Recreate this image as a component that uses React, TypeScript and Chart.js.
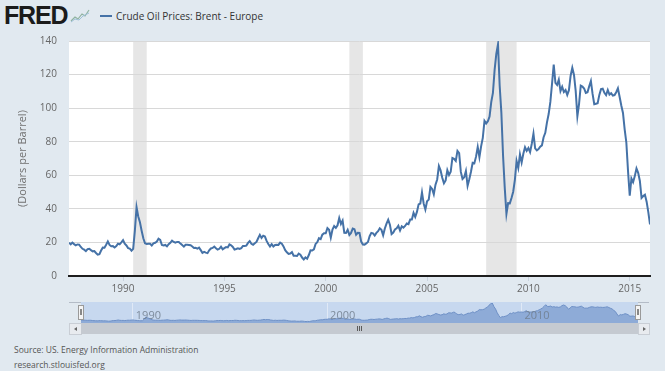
import React, { useEffect, useRef } from "react";
import { Chart, registerables } from "chart.js";

Chart.register(...registerables);

// ---------- data ----------
const FIRST_YEAR = 1987;
const FIRST_MONTH = 5; // May 1987
const brentMonthly: number[] = [
  // 1987 (May-Dec)
  19.8, 18.9, 19.9, 19.0, 18.3, 18.8, 18.7, 17.3,
  // 1988
  16.2, 15.7, 14.8, 16.0, 16.2, 15.4, 14.7, 14.9, 13.7, 12.7, 13.0, 15.2,
  // 1989
  16.9, 16.8, 18.6, 20.6, 18.5, 17.7, 17.8, 17.0, 17.8, 19.3, 18.9, 20.0,
  // 1990
  21.3, 19.2, 18.2, 16.6, 16.3, 15.1, 16.2, 27.0, 41.0, 35.5, 32.0, 27.0,
  // 1991
  22.5, 19.5, 19.1, 19.2, 19.2, 18.2, 19.4, 19.8, 20.5, 22.2, 21.5, 18.5,
  // 1992
  18.2, 18.5, 17.7, 19.0, 19.8, 21.1, 20.3, 19.9, 20.3, 20.3, 19.3, 18.4,
  // 1993
  17.5, 18.6, 18.6, 18.5, 18.3, 17.6, 16.7, 16.8, 16.3, 16.9, 15.4, 13.8,
  // 1994
  14.4, 13.9, 13.6, 15.3, 16.4, 16.7, 17.5, 16.5, 15.7, 16.2, 17.5, 15.9,
  // 1995
  16.6, 17.2, 17.0, 18.8, 18.3, 17.3, 15.8, 16.1, 16.5, 16.1, 16.6, 17.9,
  // 1996
  17.9, 18.1, 19.7, 20.8, 19.2, 18.6, 19.5, 20.3, 22.5, 24.5, 22.7, 24.0,
  // 1997
  23.5, 20.9, 19.1, 17.6, 19.0, 17.6, 18.5, 18.6, 18.5, 19.9, 19.2, 17.6,
  // 1998
  15.4, 14.1, 13.2, 13.4, 14.2, 12.1, 12.0, 11.9, 13.3, 12.7, 11.0, 9.9,
  // 1999
  11.1, 10.3, 12.5, 15.3, 15.2, 15.9, 19.1, 20.2, 22.5, 22.0, 24.6, 25.5,
  // 2000
  25.5, 28.5, 27.5, 22.8, 27.7, 29.8, 28.7, 30.2, 34.5, 31.0, 33.0, 25.7,
  // 2001
  25.6, 27.5, 24.5, 25.7, 28.3, 27.9, 24.6, 25.7, 25.6, 20.5, 18.8, 18.7,
  // 2002
  19.4, 20.3, 23.7, 25.7, 25.4, 24.1, 25.7, 26.7, 28.4, 27.5, 24.3, 28.3,
  // 2003
  31.2, 33.5, 30.6, 25.0, 25.9, 27.7, 28.4, 29.9, 27.1, 29.6, 28.8, 29.8,
  // 2004
  31.3, 30.9, 33.6, 33.6, 37.6, 35.2, 38.2, 42.7, 43.2, 49.8, 43.1, 39.6,
  // 2005
  44.5, 45.5, 53.1, 51.9, 48.7, 54.4, 57.5, 65.5, 62.9, 58.5, 55.2, 56.9,
  // 2006
  63.0, 60.2, 62.1, 70.3, 69.8, 68.6, 74.5, 73.2, 62.0, 57.8, 58.8, 62.5,
  // 2007
  53.7, 57.6, 62.1, 67.5, 67.2, 71.1, 76.9, 70.8, 77.2, 82.3, 92.4, 90.9,
  // 2008
  92.2, 95.0, 103.6, 109.1, 122.8, 132.3, 138.0, 113.2, 97.2, 71.6, 52.5, 37.0,
  // 2009
  43.4, 43.3, 46.5, 50.2, 57.3, 68.6, 64.4, 72.5, 67.7, 72.8, 76.7, 74.5,
  // 2010
  76.2, 73.8, 78.8, 84.8, 76.0, 74.8, 75.6, 77.0, 77.8, 82.7, 85.3, 91.5,
  // 2011
  96.5, 103.7, 114.6, 126.0, 115.0, 113.8, 117.0, 110.2, 112.8, 109.6, 110.8, 107.9,
  // 2012
  110.7, 119.3, 124.0, 119.8, 110.3, 95.2, 102.6, 113.4, 112.9, 111.7, 109.1, 109.5,
  // 2013
  113.0, 116.1, 108.5, 102.3, 102.6, 102.9, 107.9, 111.3, 111.6, 109.1, 107.8, 110.8,
  // 2014
  108.1, 108.9, 107.5, 107.8, 109.5, 111.8, 106.8, 101.6, 97.1, 87.4, 79.4, 62.3,
  // 2015
  47.8, 58.1, 55.9, 59.5, 64.1, 61.5, 56.6, 46.5, 47.6, 48.4, 44.3, 38.0,
  // 2016
  30.7,
];

const seriesLabel = "Crude Oil Prices: Brent - Europe";
const yAxisTitle = "(Dollars per Barrel)";
const xTickYears = [1990, 1995, 2000, 2005, 2010, 2015];
const navigatorYears = [1990, 2000, 2010];
const recessionStart = [1990 + 6 / 12, 2001 + 2 / 12, 2007 + 11 / 12];
const recessionEnd = [1991 + 2 / 12, 2001 + 10 / 12, 2009 + 5 / 12];
const yMin = 0;
const yMax = 140;
const yStep = 20;
const sourceLines = [
  "Source: US. Energy Information Administration",
  "research.stlouisfed.org",
];

const toTime = (i: number) => FIRST_YEAR + (FIRST_MONTH - 1 + i) / 12;

// ---------- plugins ----------
const recessionPlugin = {
  id: "recessionBands",
  beforeDraw(chart: any) {
    const { ctx, chartArea: a, scales } = chart;
    const x = scales.x;
    ctx.save();
    ctx.fillStyle = "#ffffff";
    ctx.fillRect(a.left, a.top, a.right - a.left, a.bottom - a.top);
    ctx.fillStyle = "#e6e6e6";
    recessionStart.forEach((s, k) => {
      const x1 = x.getPixelForValue(s);
      const x2 = x.getPixelForValue(recessionEnd[k]);
      ctx.fillRect(x1, a.top, x2 - x1, a.bottom - a.top);
    });
    ctx.restore();
  },
};

const navigatorPlugin = {
  id: "navigatorDecor",
  beforeDraw(chart: any) {
    const { ctx, chartArea: a } = chart;
    ctx.save();
    ctx.fillStyle = "#c7d8ef";
    ctx.fillRect(a.left, a.top - 1, a.right - a.left, a.bottom - a.top + 1);
    ctx.restore();
  },
  afterDatasetsDraw(chart: any) {
    const { ctx, chartArea: a, scales } = chart;
    ctx.save();
    ctx.font = "11px 'Open Sans', sans-serif";
    ctx.fillStyle = "rgba(112,124,140,0.85)";
    ctx.textBaseline = "middle";
    ctx.textAlign = "left";
    navigatorYears.forEach((yr) => {
      ctx.fillText(String(yr), scales.x.getPixelForValue(yr) + 3, a.top + 12.5);
    });
    ctx.restore();
  },
};

export default function App() {
  const mainRef = useRef<HTMLCanvasElement>(null);
  const navRef = useRef<HTMLCanvasElement>(null);

  useEffect(() => {
    document.body.style.margin = "0";
    Chart.defaults.font.family = "'Open Sans', sans-serif";
    const points = brentMonthly.map((v, i) => ({ x: toTime(i), y: v }));
    const xMin = toTime(0);
    const xMax = toTime(brentMonthly.length - 1);

    const main = new Chart(mainRef.current as HTMLCanvasElement, {
      type: "line",
      data: {
        datasets: [
          {
            label: seriesLabel,
            data: points,
            borderColor: "#4572a7",
            borderWidth: 2,
            pointRadius: 0,
            fill: false,
            tension: 0,
          },
        ],
      },
      options: {
        animation: false,
        responsive: false,
        devicePixelRatio: 1,
        layout: { padding: { left: 0, right: 15, top: 41, bottom: 0 } },
        plugins: { legend: { display: false }, tooltip: { enabled: false } },
        scales: {
          x: {
            type: "linear",
            min: xMin,
            max: xMax,
            afterBuildTicks: (s: any) => {
              s.ticks = xTickYears.map((v) => ({ value: v }));
            },
            afterFit: (s: any) => {
              s.height = 24;
            },
            ticks: {
              color: "#666",
              font: { size: 10 },
              padding: 2,
              maxRotation: 0,
              autoSkip: false,
              callback: (v: any) => String(v),
            },
            grid: {
              drawOnChartArea: false,
              drawTicks: true,
              tickLength: 5,
              color: "#c8d2de",
            },
            border: { display: true, color: "#1e1e1e", width: 2 },
          },
          y: {
            min: yMin,
            max: yMax,
            ticks: { stepSize: yStep, color: "#666", font: { size: 10 }, padding: 12 },
            grid: { color: "#d8d8d8", drawTicks: false },
            border: { display: false },
            title: {
              display: true,
              text: yAxisTitle,
              color: "#707070",
              font: { size: 11 },
              padding: { top: 16, bottom: 0 },
            },
            afterFit: (s: any) => {
              s.width = 69;
            },
          },
        },
      } as any,
      plugins: [recessionPlugin],
    });

    const nav = new Chart(navRef.current as HTMLCanvasElement, {
      type: "line",
      data: {
        datasets: [
          {
            data: points,
            borderColor: "#6e90c6",
            borderWidth: 1,
            backgroundColor: "#8eabd7",
            fill: "origin",
            pointRadius: 0,
            tension: 0,
          },
        ],
      },
      options: {
        animation: false,
        responsive: false,
        devicePixelRatio: 1,
        layout: { padding: { left: 12, right: 11, top: 1, bottom: 0 } },
        plugins: { legend: { display: false }, tooltip: { enabled: false } },
        scales: {
          x: {
            type: "linear",
            min: xMin,
            max: xMax,
            afterBuildTicks: (s: any) => {
              s.ticks = navigatorYears.map((v) => ({ value: v }));
            },
            ticks: { display: false },
            grid: { color: "rgba(255,255,255,0.45)", drawTicks: false },
            border: { display: false },
          },
          y: { display: false, min: 0, max: Math.max(...brentMonthly) },
        },
      } as any,
      plugins: [navigatorPlugin],
    });

    return () => {
      main.destroy();
      nav.destroy();
    };
  }, []);

  const abs = (s: React.CSSProperties): React.CSSProperties => ({ position: "absolute", ...s });

  return (
    <div
      style={{
        position: "fixed",
        left: 0,
        top: 0,
        width: 665,
        height: 371,
        background: "#e1e9f0",
        overflow: "hidden",
        fontFamily: "'Open Sans', sans-serif",
      }}
    >
      {/* FRED logo */}
      <div
        style={abs({
          left: 4,
          top: 3,
          fontFamily: "'Liberation Sans', Arial, sans-serif",
          fontWeight: 900,
          fontSize: 25,
          lineHeight: "25px",
          letterSpacing: -1.2,
          color: "#1b1b1b",
        })}
      >
        FRED
      </div>
      <svg style={abs({ left: 70, top: 8 })} width="20" height="15" viewBox="0 0 20 15">
        <polyline points="1,13 5,9 8,11 12,6 15,8 19,2" fill="none" stroke="#8fb3a0" strokeWidth="1.2" />
        <polyline points="1,14 5,11 9,12 13,8 19,5" fill="none" stroke="#9fc0d8" strokeWidth="1" />
      </svg>

      {/* legend */}
      <div style={abs({ left: 100, top: 15, width: 12, height: 2, background: "#4572a7" })} />
      <div style={abs({ left: 116, top: 8, fontSize: 10, lineHeight: "16px", color: "#333", whiteSpace: "nowrap" })}>
        {seriesLabel}
      </div>

      {/* main chart */}
      <canvas ref={mainRef} width={665} height={300} style={abs({ left: 0, top: 0, width: 665, height: 300 })} />

      {/* navigator */}
      <div style={abs({ left: 69, top: 302, width: 580, height: 0, borderTop: "1px solid #b4bcc7" })} />
      <canvas ref={navRef} width={580} height={21} style={abs({ left: 69, top: 302, width: 580, height: 21 })} />
      <div style={abs({ left: 78, top: 305, width: 4, height: 13, background: "#f4f4f4", border: "1px solid #9a9a9a" })}>
        <div style={abs({ left: 1, top: 3, width: 0, height: 6, borderLeft: "1px solid #888" })} />
        <div style={abs({ left: 2, top: 3, width: 0, height: 6, borderLeft: "1px solid #888" })} />
      </div>
      <div style={abs({ left: 635, top: 305, width: 4, height: 13, background: "#f4f4f4", border: "1px solid #9a9a9a" })}>
        <div style={abs({ left: 1, top: 3, width: 0, height: 6, borderLeft: "1px solid #888" })} />
        <div style={abs({ left: 2, top: 3, width: 0, height: 6, borderLeft: "1px solid #888" })} />
      </div>

      {/* scrollbar */}
      <div style={abs({ left: 69, top: 323, width: 11, height: 10, background: "#e8ebef", border: "1px solid #c9ced5" })}>
        <div
          style={abs({
            left: 4,
            top: 3,
            width: 0,
            height: 0,
            borderTop: "2px solid transparent",
            borderBottom: "2px solid transparent",
            borderRight: "3px solid #666",
          })}
        />
      </div>
      <div style={abs({ left: 81, top: 323, width: 557, height: 11, background: "#c5cad1" })} />
      <div style={abs({ left: 357, top: 326, width: 1, height: 5, background: "#5a5a5a" })} />
      <div style={abs({ left: 359, top: 326, width: 1, height: 5, background: "#5a5a5a" })} />
      <div style={abs({ left: 361, top: 326, width: 1, height: 5, background: "#5a5a5a" })} />
      <div style={abs({ left: 638, top: 323, width: 10, height: 10, background: "#e8ebef", border: "1px solid #c9ced5" })}>
        <div
          style={abs({
            left: 4,
            top: 3,
            width: 0,
            height: 0,
            borderTop: "2px solid transparent",
            borderBottom: "2px solid transparent",
            borderLeft: "3px solid #666",
          })}
        />
      </div>

      {/* source */}
      <div style={abs({ left: 14, top: 344, fontSize: 8.5, lineHeight: "12px", color: "#555", whiteSpace: "nowrap" })}>
        {sourceLines[0]}
      </div>
      <div style={abs({ left: 14, top: 359, fontSize: 8.5, lineHeight: "12px", color: "#555", whiteSpace: "nowrap" })}>
        {sourceLines[1]}
      </div>
    </div>
  );
}
